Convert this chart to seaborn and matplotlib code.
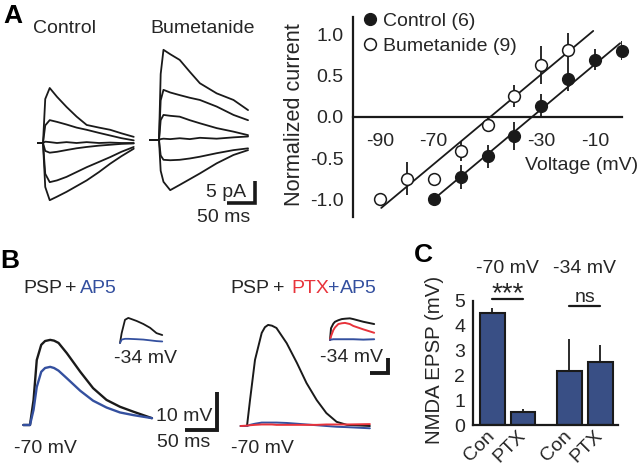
import numpy as np
import pandas as pd
import matplotlib
matplotlib.use("Agg")
import matplotlib.pyplot as plt
import seaborn as sns
from matplotlib.lines import Line2D

# ---------------- data ----------------
# Panel A: example whole-cell current sweeps (pA) vs time (ms)
ctrl_time = [-9, -1, 0, 4, 12, 25, 42, 60, 78, 100, 120, 140, 162]
ctrl_sweeps = [
    [0, 0, 0, 10.0, 12.5, 10.5, 8.2, 6.0, 4.1, 3.5, 3.0, 2.2, 1.4],
    [0, 0, 0, 4.0, 5.2, 4.8, 4.2, 3.5, 3.0, 2.3, 1.7, 1.1, 0.6],
    [0, 0, 0, 0.3, 0.2, 0.0, 0.2, 0.0, 0.2, 0.0, 0.1, 0.0, 0.0],
    [0, 0, 0, -1.8, -2.2, -2.0, -1.6, -1.2, -0.9, -0.6, -0.4, -0.2, -0.1],
    [0, 0, 0, -7.0, -8.9, -8.5, -7.7, -6.6, -5.5, -4.3, -3.2, -2.0, -0.9],
    [0, 0, 0, -10.0, -13.0, -12.2, -11.1, -9.8, -8.5, -6.6, -4.7, -3.0, -1.3],
]
bume_time = [-16, -4, 0, 3, 8, 20, 37, 55, 73, 103, 133, 159]
bume_sweeps = [
    [0, 0, 0, 15.0, 20.5, 19.5, 18.2, 15.5, 12.9, 10.6, 9.1, 6.8],
    [0, 0, 0, 9.0, 11.4, 10.8, 10.2, 9.6, 9.1, 7.6, 5.7, 4.5],
    [0, 0, 0, 4.5, 5.7, 5.5, 5.3, 4.5, 3.8, 2.7, 1.9, 1.1],
    [0, 0, 0, 0.2, 0.3, 0.2, 0.4, 0.2, 0.5, 0.3, 0.6, 0.8],
    [0, 0, 0, -3.5, -4.5, -4.6, -4.5, -4.2, -3.8, -3.0, -2.3, -1.9],
    [0, 0, 0, -7.0, -9.5, -11.4, -10.2, -8.9, -7.6, -5.3, -3.4, -2.3],
]

# Panel A: I-V relation (normalized current vs voltage)
iv_volt_ctrl = [-70, -60, -50, -40, -30, -20, -10, 0]
iv_curr_ctrl = [-1.00, -0.73, -0.48, -0.23, 0.13, 0.46, 0.69, 0.80]
iv_sem_ctrl = [0.00, 0.15, 0.14, 0.17, 0.14, 0.15, 0.13, 0.11]
iv_volt_bume = [-90, -80, -70, -60, -50, -40, -30, -20]
iv_curr_bume = [-1.00, -0.75, -0.75, -0.41, -0.10, 0.25, 0.62, 0.81]
iv_sem_bume = [0.00, 0.20, 0.05, 0.12, 0.09, 0.13, 0.23, 0.20]
iv_fit_span_ctrl = [-71.5, -0.7]
iv_fit_span_bume = [-89.5, -10.7]
iv_labels = ["Control (6)", "Bumetanide (9)"]

# Panel B: PSP traces (mV) vs time (ms)
psp_time_l = [-12, -1.6, 4, 9, 16, 22, 30, 36, 43, 56, 77, 97, 118, 139, 160, 189]
psp_l_ctrl = [0, 0, 6.6, 17.1, 21.1, 22.1, 22.4, 22.2, 21.6, 18.9, 14.0, 9.7, 6.6, 4.8, 3.5, 1.8]
psp_l_ap5 = [0, 0, 4.0, 10.0, 14.0, 15.0, 15.3, 15.0, 14.3, 12.3, 9.0, 6.4, 4.6, 3.3, 2.6, 1.8]
psp_ins_time_l = [0, 2.6, 7.8, 13, 26, 36.5, 47, 57, 66]
psp_ins_l_ctrl = [0, 2.6, 6.1, 6.6, 5.8, 5.0, 4.0, 2.6, 2.1]
psp_ins_l_ap5 = [0, 0.9, 1.1, 1.1, 1.0, 0.9, 0.7, 0.5, 0.4]
psp_time_r = [-10, 0, 4.7, 12.5, 23, 28, 33, 39, 46, 62, 78, 93, 109, 124, 140, 156, 192]
psp_r_ctrl = [0, 0, 6.8, 17.4, 24.5, 26.0, 26.6, 26.4, 25.8, 21.8, 16.6, 11.3, 6.8, 3.4, 1.1, 0.3, 0]
psp_r_ptx = [0, 0.1, 0.2, 0.3, 0.4, 0.4, 0.4, 0.4, 0.3, 0.3, 0.3, 0.3, 0.3, 0.4, 0.4, 0.4, 0.5]
psp_r_ap5 = [0, 0, 0.3, 0.6, 0.9, 0.9, 0.9, 0.9, 0.9, 0.8, 0.6, 0.4, 0.2, 0.0, -0.2, -0.3, -0.6]
psp_ins_time_r = [0, 1.6, 5.2, 7.8, 13, 18.3, 23.4, 31, 36.4, 52, 69]
psp_ins_r_ctrl = [0, 3.1, 4.3, 4.8, 5.2, 5.5, 5.6, 5.7, 5.5, 4.8, 4.2]
psp_ins_r_ptx = [0, 1.0, 2.6, 3.3, 4.2, 4.4, 4.5, 4.2, 3.7, 2.8, 1.9]
psp_ins_r_ap5 = [0, 0.1, 0.2, 0.2, 0.2, 0.2, 0.2, 0.2, 0.2, 0.1, 0.2]

# Panel C: NMDA EPSP amplitudes
c_volt = ["-70 mV", "-70 mV", "-34 mV", "-34 mV"]
c_cond = ["Con", "PTX", "Con", "PTX"]
c_mean = [4.51, 0.51, 2.16, 2.53]
c_sem = [0.20, 0.13, 1.28, 0.70]
c_sig = ["***", "ns"]

# ---------------- style ----------------
sns.set_theme(style="white")
plt.rcParams["font.family"] = ["Liberation Sans", "DejaVu Sans"]
plt.rcParams["axes.unicode_minus"] = False

TXT = "#262626"
LINE = "#1a1a1a"
BLUE = "#34509f"
BAR = "#2c4a92"
RED = "#e8333b"
FS = 14

W, H = 640, 468
fig = plt.figure(figsize=(6.4, 4.68), dpi=100)


def fx(px):
    return px / W


def fy(py):
    return 1 - py / H


def rect(x0, y0, x1, y1):
    return [fx(x0), fy(y1), (x1 - x0) / W, (y1 - y0) / H]


def ftext(px, py, s, **kw):
    kw.setdefault("fontsize", FS)
    kw.setdefault("color", TXT)
    return fig.text(fx(px), fy(py), s, **kw)


def draw_traces(ax, time, sweeps, dx, dy, color, lw):
    rows = []
    for i, sw in enumerate(sweeps):
        for t, v in zip(time, sw):
            rows.append((t + dx, v + dy, i))
    df = pd.DataFrame(rows, columns=["t", "v", "sweep"])
    sns.lineplot(data=df, x="t", y="v", units="sweep", estimator=None,
                 color=color, lw=lw, sort=False, ax=ax, legend=False)


def blank(ax):
    ax.set_axis_off()
    ax.set_xlabel("")
    ax.set_ylabel("")


# ---------------- Panel A traces ----------------
axAt = fig.add_axes(rect(25, 40, 265, 225))
axAt.set_xlim(0, 240 / 0.56)
axAt.set_ylim(0, 185 / 4.4)
draw_traces(axAt, ctrl_time, ctrl_sweeps, 18 / 0.56, 82 / 4.4, LINE, 1.3)
draw_traces(axAt, bume_time, bume_sweeps, 134 / 0.56, 85 / 4.4, LINE, 1.3)
xb = 230 / 0.56
axAt.plot([xb - 50, xb, xb], [5, 5, 10], color=LINE, lw=2.6,
          solid_joinstyle="miter", solid_capstyle="butt", clip_on=False)
blank(axAt)
ftext(64, 33, "Control", ha="center", va="baseline")
ftext(203, 33, "Bumetanide", ha="center", va="baseline")
ftext(246, 197, "5 pA", ha="right", va="baseline")
ftext(224, 222, "50 ms", ha="center", va="baseline")
ftext(13, 23, "A", ha="center", va="baseline", fontsize=19, fontweight="bold", color="black")

# ---------------- Panel A I-V ----------------
axIV = fig.add_axes(rect(353, 16.7, 622, 216.7))
axIV.errorbar(iv_volt_ctrl, iv_curr_ctrl, yerr=iv_sem_ctrl, fmt="none",
              ecolor=LINE, elinewidth=1.3, capsize=0, zorder=2)
axIV.errorbar(iv_volt_bume, iv_curr_bume, yerr=iv_sem_bume, fmt="none",
              ecolor=LINE, elinewidth=1.3, capsize=0, zorder=2)
for vx, cy, span in [(iv_volt_ctrl, iv_curr_ctrl, iv_fit_span_ctrl),
                     (iv_volt_bume, iv_curr_bume, iv_fit_span_bume)]:
    k, b = np.polyfit(vx, cy, 1)
    xs = np.array(span)
    sns.lineplot(x=xs, y=k * xs + b, color=LINE, lw=1.3, ax=axIV, zorder=3)
sns.scatterplot(x=iv_volt_ctrl, y=iv_curr_ctrl, color=LINE, edgecolor=LINE,
                s=72, linewidth=1, ax=axIV, zorder=4, clip_on=False)
sns.scatterplot(x=iv_volt_bume, y=iv_curr_bume, color="white", edgecolor=LINE,
                s=72, linewidth=1.1, ax=axIV, zorder=4, clip_on=False)
axIV.set_xlim(-100, 0)
axIV.set_ylim(-1.21, 1.21)
axIV.spines["bottom"].set_position(("data", 0))
for s in ["top", "right"]:
    axIV.spines[s].set_visible(False)
for s in ["left", "bottom"]:
    axIV.spines[s].set_linewidth(1.6)
    axIV.spines[s].set_color(LINE)
xt = list(range(-90, 1, 10))
axIV.set_xticks(xt)
axIV.set_xticklabels([str(v) if v in (-90, -70, -30, -10) else "" for v in xt])
axIV.set_yticks([-1.0, -0.5, 0.0, 0.5, 1.0])
axIV.set_yticklabels(["-1.0", "-0.5", "0.0", "0.5", "1.0"])
axIV.tick_params(axis="both", direction="out", length=5, width=1.4, color=LINE,
                 labelsize=FS, labelcolor=TXT, pad=2)
axIV.tick_params(axis="x", pad=7)
axIV.set_xlabel("")
axIV.set_ylabel("")
handles = [Line2D([], [], marker="o", ls="none", color=LINE, mfc=LINE, mec=LINE, ms=8.5),
           Line2D([], [], marker="o", ls="none", color=LINE, mfc="white", mec=LINE, ms=8.5, mew=1.1)]
leg = axIV.legend(handles, iv_labels, loc="upper left", bbox_to_anchor=(-0.01, 1.06),
                  frameon=False, fontsize=FS, handletextpad=0.1, labelspacing=0.35,
                  handlelength=1.2, borderaxespad=0)
for t in leg.get_texts():
    t.set_color(TXT)
ftext(638, 170, "Voltage (mV)", ha="right", va="baseline")
ftext(294.5, 115, "Normalized current", ha="center", va="center", rotation=90, fontsize=15.6)

# ---------------- Panel B ----------------
axB = fig.add_axes(rect(0, 290, 400, 460))
axB.set_xlim(0, 400 / 0.64)
axB.set_ylim(0, 170 / 3.8)
draw_traces(axB, psp_time_l, [psp_l_ctrl], 31 / 0.64, 35 / 3.8, LINE, 1.7)
draw_traces(axB, psp_time_l, [psp_l_ap5], 31 / 0.64, 35 / 3.8, BLUE, 1.7)
draw_traces(axB, psp_ins_time_l, [psp_ins_l_ctrl], 120 / 0.64, 117 / 3.8, LINE, 1.3)
draw_traces(axB, psp_ins_time_l, [psp_ins_l_ap5], 120 / 0.64, 117 / 3.8, BLUE, 1.3)
draw_traces(axB, psp_time_r, [psp_r_ctrl], 247 / 0.64, 34 / 3.8, LINE, 1.4)
draw_traces(axB, psp_time_r, [psp_r_ap5], 247 / 0.64, 34 / 3.8, BLUE, 1.4)
draw_traces(axB, psp_time_r, [psp_r_ptx], 247 / 0.64, 34 / 3.8, RED, 1.4)
draw_traces(axB, psp_ins_time_r, [psp_ins_r_ctrl], 330 / 0.64, 120 / 3.8, LINE, 1.4)
draw_traces(axB, psp_ins_time_r, [psp_ins_r_ptx], 330 / 0.64, 120 / 3.8, RED, 1.4)
draw_traces(axB, psp_ins_time_r, [psp_ins_r_ap5], 330 / 0.64, 120 / 3.8, BLUE, 1.4)
sx = 216.7 / 0.64
sy = 30 / 3.8
axB.plot([sx - 50, sx, sx], [sy, sy, sy + 10], color=LINE, lw=2.8,
         solid_joinstyle="miter", solid_capstyle="butt", clip_on=False)
rx = 388.3 / 0.64
ry = (460 - 372.7) / 3.8
axB.plot([370 / 0.64, rx, rx], [ry, ry, (460 - 358) / 3.8], color=LINE, lw=2.8,
         solid_joinstyle="miter", solid_capstyle="butt", clip_on=False)
blank(axB)
ftext(10, 268, "B", ha="center", va="baseline", fontsize=19, fontweight="bold", color="black")
ftext(23, 293, "PSP", ha="left", va="baseline")
ftext(65, 293, "+", ha="left", va="baseline")
ftext(80, 293, "AP5", ha="left", va="baseline", color=BLUE)
ftext(230, 293, "PSP", ha="left", va="baseline")
ftext(273, 293, "+", ha="left", va="baseline")
ftext(291, 293, "PTX", ha="left", va="baseline", color=RED)
ftext(328, 293, "+", ha="left", va="baseline", color=BLUE)
ftext(340, 293, "AP5", ha="left", va="baseline", color=BLUE)
ftext(45, 453, "-70 mV", ha="center", va="baseline")
ftext(262, 453, "-70 mV", ha="center", va="baseline")
ftext(146, 363, "-34 mV", ha="center", va="baseline")
ftext(352, 362, "-34 mV", ha="center", va="baseline")
ftext(184, 421, "10 mV", ha="center", va="baseline")
ftext(184, 447, "50 ms", ha="center", va="baseline")

# ---------------- Panel C ----------------
axC = fig.add_axes(rect(473, 300.5, 618, 425))
dfc = pd.DataFrame({"volt": c_volt, "cond": c_cond, "mean": c_mean, "sem": c_sem})
sns.barplot(data=dfc, x="volt", y="mean", hue="cond", palette=[BAR, BAR],
            errorbar=None, gap=0.2, edgecolor=LINE, linewidth=1.5, legend=False,
            ax=axC, zorder=2)
centers = {}
for hi, cond in enumerate(["Con", "PTX"]):
    for vi, volt in enumerate(["-70 mV", "-34 mV"]):
        bar = axC.containers[hi][vi]
        cx = bar.get_x() + bar.get_width() / 2
        row = dfc[(dfc.volt == volt) & (dfc.cond == cond)].iloc[0]
        axC.errorbar([cx], [row["mean"]], yerr=[[0], [row["sem"]]], fmt="none",
                     ecolor=LINE, elinewidth=1.3, capsize=0, zorder=1)
        centers[(volt, cond)] = cx
order = [("-70 mV", "Con"), ("-70 mV", "PTX"), ("-34 mV", "Con"), ("-34 mV", "PTX")]
axC.set_xticks([centers[o] for o in order])
axC.set_xticklabels([o[1] for o in order], rotation=45, ha="right", va="center",
                    rotation_mode="anchor")
axC.set_xlim(-0.45, 1.43)
axC.set_ylim(0, 5)
axC.set_yticks(range(6))
for s in ["top", "right"]:
    axC.spines[s].set_visible(False)
for s in ["left", "bottom"]:
    axC.spines[s].set_linewidth(1.6)
    axC.spines[s].set_color(LINE)
axC.tick_params(axis="y", direction="out", length=4, width=1.4, color=LINE,
                labelsize=FS, labelcolor=TXT, pad=1.5)
axC.tick_params(axis="x", length=0, labelsize=FS, labelcolor=TXT, pad=6)
axC.set_xlabel("")
axC.set_ylabel("")
for vi, volt in enumerate(["-70 mV", "-34 mV"]):
    axC.text(vi, (425 - 273) / 24.9, volt, ha="center", va="baseline",
             fontsize=FS, color=TXT, clip_on=False)
# significance markers
y70 = (425 - 298.5) / 24.9
y34 = (425 - 306) / 24.9
axC.plot([centers[("-70 mV", "Con")], centers[("-70 mV", "PTX")]], [y70, y70],
         color=LINE, lw=1.6, clip_on=False)
axC.plot([centers[("-34 mV", "Con")], centers[("-34 mV", "PTX")]], [y34, y34],
         color=LINE, lw=1.6, clip_on=False)
axC.text(0, (425 - 301) / 24.9, c_sig[0], ha="center", va="baseline",
         fontsize=20, color=TXT, clip_on=False)
axC.text(1, (425 - 302) / 24.9, c_sig[1], ha="center", va="baseline",
         fontsize=FS, color=TXT, clip_on=False)
ftext(434.5, 360, "NMDA EPSP (mV)", ha="center", va="center", rotation=90, fontsize=14.7)
ftext(423, 262, "C", ha="center", va="baseline", fontsize=19, fontweight="bold", color="black")

fig.savefig("out.png", dpi=100)
